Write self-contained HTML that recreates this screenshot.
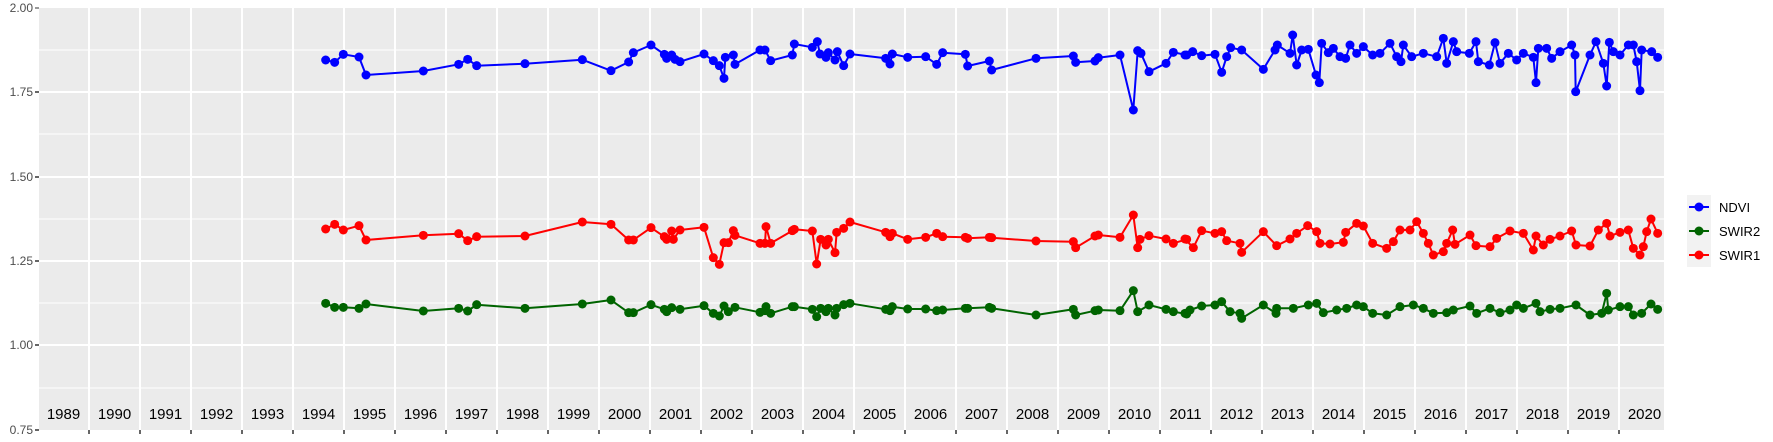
<!DOCTYPE html>
<html><head><meta charset="utf-8"><style>
body{margin:0;background:#fff;}
svg{display:block;font-family:"Liberation Sans",sans-serif;}
</style></head><body>
<svg id="s" width="1773" height="442" viewBox="0 0 1773 442" xmlns="http://www.w3.org/2000/svg">
<rect x="39" y="8" width="1625" height="422" fill="#ebebeb"/>
<g id="grid"></g>
<g id="data"></g>
<g id="axes" font-size="12" fill="#4d4d4d" text-anchor="end">
<text x="33" y="12">2.00</text>
<text x="33" y="96">1.75</text>
<text x="33" y="181">1.50</text>
<text x="33" y="265">1.25</text>
<text x="33" y="349">1.00</text>
<text x="33" y="434">0.75</text>
</g>
<g font-size="13" fill="#000">
<rect x="1687" y="195" width="24" height="72" fill="#f2f2f2"/>
<line x1="1689" y1="207" x2="1709" y2="207" stroke="#0000ff" stroke-width="2"/><circle cx="1699" cy="207" r="4.5" fill="#0000ff"/>
<line x1="1689" y1="231" x2="1709" y2="231" stroke="#006400" stroke-width="2"/><circle cx="1699" cy="231" r="4.5" fill="#006400"/>
<line x1="1689" y1="255" x2="1709" y2="255" stroke="#ff0000" stroke-width="2"/><circle cx="1699" cy="255" r="4.5" fill="#ff0000"/>
<text x="1719" y="212">NDVI</text>
<text x="1719" y="236">SWIR2</text>
<text x="1719" y="260">SWIR1</text>
</g>
</svg>
<script>
var NS="http://www.w3.org/2000/svg";
function el(p,t,a){var e=document.createElementNS(NS,t);for(var k in a)e.setAttribute(k,a[k]);p.appendChild(e);return e;}
var g=document.getElementById('grid'),s=document.getElementById('s');
[50,134,219,303,388].forEach(function(y){el(g,'line',{x1:39,x2:1664,y1:y,y2:y,stroke:'#fff','stroke-width':1});});
[92,177,261,345].forEach(function(y){el(g,'line',{x1:39,x2:1664,y1:y,y2:y,stroke:'#fff','stroke-width':2});});
for(var i=0;i<=30;i++){var x=89+i*51;el(g,'line',{x1:x,x2:x,y1:8,y2:430,stroke:'#fff','stroke-width':2});
 el(s,'line',{x1:x,x2:x,y1:430,y2:434,stroke:'#333','stroke-width':1.5});}
el(s,'line',{x1:35,x2:39,y1:8,y2:8,stroke:'#333'});
[92,177,261,345,430].forEach(function(y){el(s,'line',{x1:35,x2:39,y1:y,y2:y,stroke:'#333','stroke-width':1.5});});
for(var i=0;i<32;i++){var t=el(g,'text',{x:38+i*51+25.5,y:419,'font-size':15,'text-anchor':'middle',fill:'#000'});t.textContent=1989+i;}
function conv(off,arr){var r=[];for(var i=0;i<arr.length;i+=2)r.push([off+arr[i]/3,arr[i+1]/3]);return r;}
var B=[].concat(
conv(300,[77,180,104,187,130,163,177,171,198,225,370,213,476,193,503,178,530,197,675,191,847,179,933,212,986,186,1000,158,1053,135,1093,163,1100,175,1115,165,1125,178,1140,185,1212,162,1240,182,1258,197,1272,235,1276,172,1300,165,1305,193,1380,150]),
conv(740,[75,150,92,182,157,165,163,132,217,142,232,125,240,162,258,172,265,158,285,180,292,155,311,197,330,162,437,175,450,192,457,162,503,172,557,170,590,193,608,158,676,163,683,198,748,183,755,210,888,175,1000,168,1007,187,1065,183,1075,173,1140,165,1180,330,1193,152,1203,160,1227,215,1278,190,1300,157,1340,165]),
conv(1180,[15,165,38,155,65,167,105,163,125,217,140,170,152,143,185,150,250,208,285,150,292,135,330,160,338,105,350,195,365,150,385,148,408,225,418,248,425,130,445,158,460,145,480,170,497,175,510,135,530,160,550,140,578,165,600,160,630,130,650,170,663,185,670,135,695,170,730,160,770,170,790,115,800,190,820,125,830,155,868,160,888,125,895,185,928,195,945,128,960,190,985,160,1010,180,1030,160,1060,172,1068,248,1075,145,1100,145,1115,175,1140,155,1175,135,1185,165,1187,275,1230,165,1248,125,1270,190,1280,258,1288,127,1300,155,1320,165,1345,135,1360,135,1370,185,1380,272,1385,150,1415,155,1433,172]));
var R=[].concat(
conv(300,[77,687,104,673,130,690,177,677,198,720,370,706,476,701,503,722,530,710,675,708,847,666,933,673,986,720,1000,720,1053,683,1093,710,1100,718,1115,693,1120,718,1140,690,1212,682,1240,773,1258,793,1272,728,1285,728,1300,692,1305,706,1380,730]),
conv(740,[75,730,78,680,92,730,157,692,163,688,217,693,230,792,242,718,258,735,265,718,285,758,290,697,311,685,330,666,437,697,450,710,457,700,503,718,557,712,590,700,608,710,676,712,683,715,748,712,755,713,888,723,1000,725,1007,743,1065,708,1075,705,1140,712,1180,645,1193,743,1200,718,1227,707,1278,717,1300,730,1340,718]),
conv(1180,[15,717,40,743,65,692,105,700,125,695,140,722,180,730,185,757,250,695,290,737,330,717,350,700,383,677,410,695,420,730,450,732,490,727,497,697,530,670,550,678,578,730,620,745,640,725,660,690,690,690,710,665,730,700,745,730,760,765,790,755,800,730,818,690,825,733,870,705,888,737,930,740,950,715,990,693,1030,700,1060,750,1068,708,1090,735,1110,718,1140,708,1175,693,1188,735,1230,738,1255,690,1280,670,1290,708,1320,697,1345,690,1360,745,1380,765,1390,740,1400,695,1413,657,1433,700]));
var G=[].concat(
conv(300,[77,910,104,922,130,922,177,925,198,912,370,933,476,925,503,933,530,914,675,925,847,912,933,900,986,938,1000,938,1053,914,1093,928,1100,935,1115,923,1140,928,1212,917,1240,940,1258,948,1272,918,1285,935,1305,922,1380,937]),
conv(740,[75,932,78,920,92,940,157,920,163,920,217,928,230,950,242,925,258,935,265,925,285,945,290,925,311,914,330,910,437,928,450,932,457,920,503,927,557,927,590,932,608,930,676,925,683,925,748,922,755,925,888,945,1000,928,1007,945,1065,932,1075,930,1140,932,1180,872,1193,935,1227,915,1278,928,1300,935,1340,942]),
conv(1180,[15,940,30,930,65,918,105,915,125,905,150,935,180,940,185,955,250,915,288,940,290,925,340,925,385,915,410,910,430,938,470,930,500,925,530,915,550,920,578,940,620,945,660,920,700,915,730,925,760,940,800,938,820,930,870,918,890,940,930,925,960,938,990,930,1010,915,1030,925,1068,910,1080,935,1110,928,1140,925,1188,915,1230,945,1265,940,1280,880,1285,930,1320,920,1345,920,1360,945,1385,940,1413,912,1433,928]));
var d=document.getElementById('data');
[[B,'#0000ff'],[G,'#006400'],[R,'#ff0000']].forEach(function(p){
 var pts=p[0].map(function(q){return q[0].toFixed(1)+','+q[1].toFixed(1);}).join(' ');
 el(d,'polyline',{points:pts,fill:'none',stroke:p[1],'stroke-width':2,'stroke-linejoin':'round'});
 p[0].forEach(function(q){el(d,'circle',{cx:q[0],cy:q[1],r:4.5,fill:p[1]});});
});
</script>
</body></html>
